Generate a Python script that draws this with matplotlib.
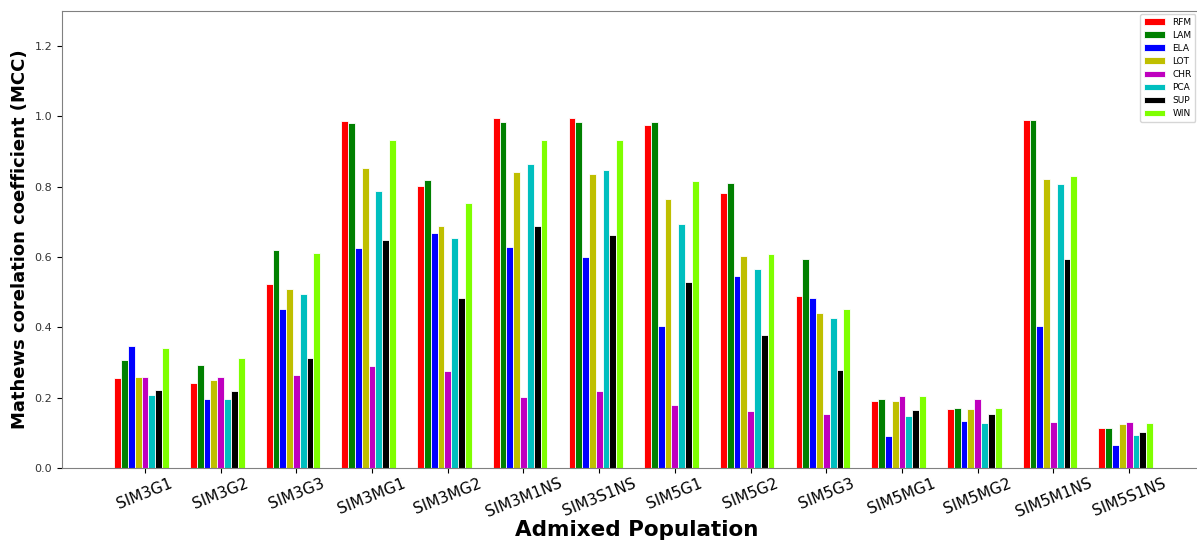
import numpy as np
import matplotlib
matplotlib.use('Agg')
import matplotlib.pyplot as plt

# Populations simulées
populations = ['SIM3G1', 'SIM3G2', 'SIM3G3', 'SIM3MG1', 'SIM3MG2', 'SIM3M1NS', 'SIM3S1NS',
               'SIM5G1', 'SIM5G2', 'SIM5G3', 'SIM5MG1', 'SIM5MG2', 'SIM5M1NS', 'SIM5S1NS']

# MCC par méthode
RFM = [0.256, 0.242, 0.524, 0.986, 0.803, 0.995, 0.995, 0.976, 0.782, 0.489, 0.191, 0.167, 0.991, 0.113]
LAM = [0.306, 0.294, 0.619, 0.980, 0.818, 0.984, 0.984, 0.984, 0.810, 0.595, 0.196, 0.170, 0.991, 0.113]
ELA = [0.348, 0.196, 0.451, 0.625, 0.669, 0.629, 0.599, 0.405, 0.547, 0.484, 0.091, 0.133, 0.403, 0.065]
LOT = [0.258, 0.249, 0.510, 0.852, 0.687, 0.843, 0.837, 0.766, 0.603, 0.441, 0.191, 0.167, 0.822, 0.124]
CHR = [0.258, 0.258, 0.265, 0.290, 0.277, 0.201, 0.218, 0.180, 0.163, 0.153, 0.206, 0.196, 0.132, 0.130]
PCA = [0.208, 0.196, 0.494, 0.789, 0.655, 0.865, 0.849, 0.695, 0.567, 0.426, 0.148, 0.129, 0.807, 0.094]
SUP = [0.221, 0.220, 0.312, 0.649, 0.485, 0.688, 0.662, 0.528, 0.378, 0.279, 0.165, 0.155, 0.595, 0.102]
WIN = [0.340, 0.312, 0.613, 0.932, 0.755, 0.932, 0.932, 0.815, 0.608, 0.451, 0.206, 0.171, 0.830, 0.127]

methodes = ['RFM', 'LAM', 'ELA', 'LOT', 'CHR', 'PCA', 'SUP', 'WIN']
valeurs = [RFM, LAM, ELA, LOT, CHR, PCA, SUP, WIN]
couleurs = ['r', 'g', 'b', 'y', 'm', 'c', 'k', '#7fff00']

barWidth = 0.09
r = np.arange(len(populations))

fig = plt.figure(figsize=(11.97, 5.45), dpi=100)
ax = fig.add_axes([62 / 1197, 1 - 468 / 545, (1212 - 62) / 1197, (468 - 11) / 545])

for i, (nom, v, c) in enumerate(zip(methodes, valeurs, couleurs)):
    ax.bar(r + (i - 4) * barWidth, v, width=barWidth, color=c, edgecolor='white',
           linewidth=0.6, label=nom)

ax.set_xticks(r)
ax.set_xticklabels(populations, rotation=22, fontsize=11)
ax.set_xlim(-1.096, (1212 - 145) / 75.7)
ax.set_ylim(0, 1.3)
ax.set_yticks([0.0, 0.2, 0.4, 0.6, 0.8, 1.0, 1.2])
ax.tick_params(axis='y', labelsize=8, labelcolor='#333333')
ax.tick_params(axis='x', pad=2)
for s in ax.spines.values():
    s.set_color('#808080')

ax.set_xlabel('Admixed Population', fontsize=15.5, fontweight='bold', labelpad=0)
ax.set_ylabel('Mathews corelation coefficient (MCC)', fontsize=13, fontweight='bold')

fig.legend(loc='upper left', bbox_to_anchor=(1140 / 1197, 1 - 14 / 545), fontsize=6.5,
           handlelength=2.4, labelspacing=0.45, borderaxespad=0, fancybox=True)

plt.savefig('out.png', dpi=100)
